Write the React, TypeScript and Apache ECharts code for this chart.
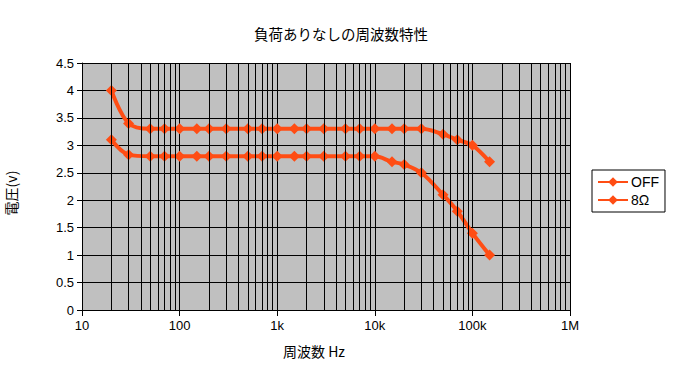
import React, { useEffect, useRef } from "react";
import * as echarts from "echarts";

const freqs = [20, 30, 50, 70, 100, 150, 200, 300, 500, 700, 1000, 1500, 2000, 3000, 5000, 7000, 10000, 15000, 20000, 30000, 50000, 70000, 100000, 150000];
const offValues = [4.0, 3.4, 3.3, 3.3, 3.3, 3.3, 3.3, 3.3, 3.3, 3.3, 3.3, 3.3, 3.3, 3.3, 3.3, 3.3, 3.3, 3.3, 3.3, 3.3, 3.2, 3.1, 3.0, 2.7];
const ohm8Values = [3.1, 2.83, 2.8, 2.8, 2.8, 2.8, 2.8, 2.8, 2.8, 2.8, 2.8, 2.8, 2.8, 2.8, 2.8, 2.8, 2.8, 2.7, 2.65, 2.5, 2.1, 1.8, 1.4, 1.0];
const seriesNames = ["OFF", "8Ω"];
const decades = [10, 100, 1000, 10000, 100000];
const xTickLabels: Record<number, string> = { 10: "10", 100: "100", 1000: "1k", 10000: "10k", 100000: "100k", 1000000: "1M" };
const titleText = "負荷ありなしの周波数特性";
const xAxisName = "周波数 Hz";
const yAxisName = "電圧(v)";

const COLOR = "#FF4D14";
const NUM_FONT = "'Liberation Sans', Arial, sans-serif";
const JP_FONT = "'Noto Sans CJK JP', sans-serif";

export default function App() {
  const ref = useRef<HTMLDivElement>(null);
  useEffect(() => {
    if (!ref.current) return;
    const chart = echarts.init(ref.current, undefined, { renderer: "svg" });
    const minorLines: { xAxis: number }[] = [];
    decades.forEach((d) => {
      for (let k = 2; k <= 9; k++) minorLines.push({ xAxis: d * k });
    });
    const mkData = (vals: number[]) => freqs.map((f, i) => [f, vals[i]]);
    chart.setOption({
      animation: false,
      backgroundColor: "#ffffff",
      title: {
        text: titleText,
        left: 249,
        top: 21,
        textStyle: { fontFamily: JP_FONT, fontSize: 14.5, fontWeight: "normal", color: "#000" },
      },
      grid: {
        left: 82,
        right: 113,
        top: 63,
        bottom: 57,
        show: true,
        backgroundColor: "#C0C0C0",
        borderWidth: 0,
      },
      legend: {
        data: seriesNames,
        orient: "vertical",
        left: 592,
        top: 170,
        padding: [5, 6, 5, 5],
        itemGap: 4,
        itemWidth: 30,
        itemHeight: 12,
        borderColor: "#000",
        borderWidth: 1,
        textStyle: { fontFamily: NUM_FONT, fontSize: 14, color: "#000", padding: [0, 0, 0, -2] },
      },
      xAxis: {
        type: "log",
        logBase: 10,
        min: 10,
        max: 1000000,
        axisLine: { show: true, lineStyle: { color: "#000", width: 1 } },
        axisTick: { show: true, inside: false, length: 6, lineStyle: { color: "#000" } },
        axisLabel: {
          color: "#000",
          fontFamily: NUM_FONT,
          fontSize: 13,
          margin: 9,
          formatter: (v: number) => xTickLabels[Math.round(v)] ?? "",
        },
        splitLine: { show: true, lineStyle: { color: "#000", width: 1 } },
      },
      yAxis: {
        type: "value",
        min: 0,
        max: 4.5,
        interval: 0.5,
        axisLine: { show: true, lineStyle: { color: "#000", width: 1 } },
        axisTick: { show: true, inside: false, length: 5, lineStyle: { color: "#000" } },
        axisLabel: { color: "#000", fontFamily: NUM_FONT, fontSize: 13, margin: 8 },
        splitLine: { show: true, lineStyle: { color: "#000", width: 1 } },
      },
      graphic: [
        {
          type: "text",
          left: 283,
          top: 344,
          style: { text: xAxisName, font: `14px ${JP_FONT}`, fill: "#000" },
        },
        {
          type: "text",
          x: 11,
          y: 193,
          rotation: Math.PI / 2,
          style: {
            text: yAxisName,
            font: `14px ${JP_FONT}`,
            fill: "#000",
            align: "center",
            verticalAlign: "middle",
          },
        },
      ],
      series: [
        {
          name: "minor-grid",
          type: "line",
          data: [],
          silent: true,
          markLine: {
            silent: true,
            symbol: "none",
            label: { show: false },
            lineStyle: { color: "#000", width: 1, type: "solid" },
            data: minorLines,
          },
        },
        {
          name: seriesNames[0],
          type: "line",
          data: mkData(offValues),
          smooth: 0.35,
          symbol: "diamond",
          symbolSize: 11,
          color: COLOR,
          lineStyle: { color: COLOR, width: 4 },
          itemStyle: { color: COLOR },
        },
        {
          name: seriesNames[1],
          type: "line",
          data: mkData(ohm8Values),
          smooth: 0.35,
          symbol: "diamond",
          symbolSize: 11,
          color: COLOR,
          lineStyle: { color: COLOR, width: 4 },
          itemStyle: { color: COLOR },
        },
      ],
    });
    return () => chart.dispose();
  }, []);
  return (
    <div
      ref={ref}
      style={{ position: "fixed", left: 0, top: 0, width: 683, height: 367, background: "#fff" }}
    />
  );
}
